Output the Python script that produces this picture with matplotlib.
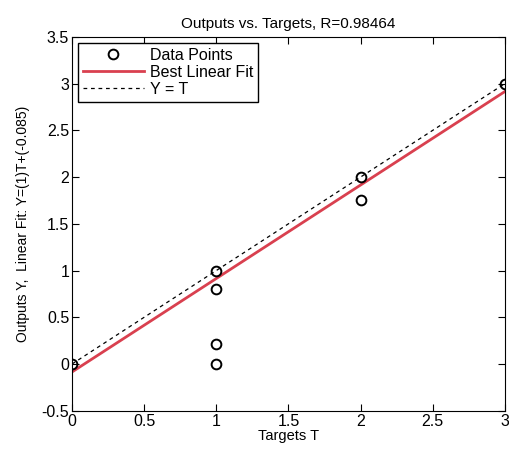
import numpy as np
import matplotlib
matplotlib.use('Agg')
import matplotlib.pyplot as plt

plt.rcParams['font.family'] = ['Liberation Sans', 'DejaVu Sans']

# Data
targets = [0, 1, 1, 1, 1, 2, 2, 3]
outputs = [0, 1.0, 0.8, 0.22, 0.0, 2.0, 1.75, 3.0]
fit_slope = 1.0
fit_intercept = -0.085
r_value = 0.98464

fig = plt.figure(figsize=(5.1, 4.49), dpi=100)
ax = fig.add_axes([0.141, 0.085, 0.849, 0.833])

t_line = np.array([0, 3])
ax.plot(targets, outputs, 'o', mfc='none', mec='black', mew=1.4, ms=7,
        label='Data Points', zorder=4)
ax.plot(t_line, fit_slope * t_line + fit_intercept, color='#d9404f', lw=2,
        label='Best Linear Fit', zorder=2)
ax.plot(t_line, t_line, 'k--', lw=0.9, dashes=(3, 3), label='Y = T', zorder=3)

ax.set_xlim(0, 3)
ax.set_ylim(-0.5, 3.5)
ax.set_xticks(np.arange(0, 3.01, 0.5))
ax.set_yticks(np.arange(-0.5, 3.51, 0.5))
ax.set_xticklabels(['0', '0.5', '1', '1.5', '2', '2.5', '3'])
ax.set_yticklabels(['-0.5', '0', '0.5', '1', '1.5', '2', '2.5', '3', '3.5'])
ax.tick_params(direction='in', top=True, right=True, labelsize=11.5, length=5, pad=2)

ax.set_title('Outputs vs. Targets, R=%.5f' % r_value, fontsize=11, pad=6)
ax.set_xlabel('Targets T', fontsize=10.5, labelpad=0)
ax.set_ylabel('Outputs Y,  Linear Fit: Y=(1)T+(-0.085)', fontsize=10, labelpad=8)

leg = ax.legend(loc='upper left', fontsize=11.5, fancybox=False, framealpha=1,
                edgecolor='black', borderaxespad=0.4, handlelength=3.8,
                handletextpad=0.4, labelspacing=0.12, borderpad=0.3)
leg.get_frame().set_linewidth(1.0)

fig.savefig('out.png', dpi=100)
